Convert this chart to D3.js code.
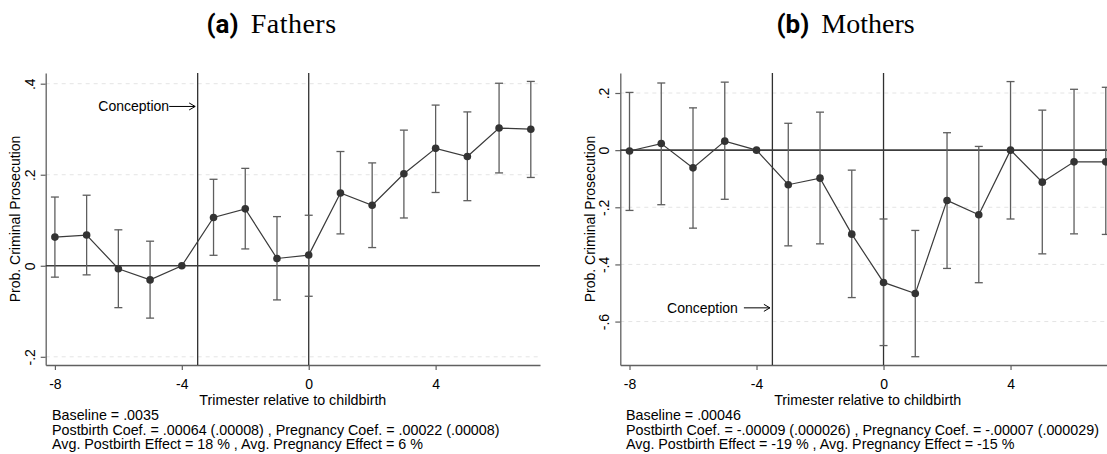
<!DOCTYPE html>
<html>
<head>
<meta charset="utf-8">
<script src="https://cdn.jsdelivr.net/npm/d3@7"></script>
<style>
  html, body { margin: 0; padding: 0; background: #fff; }
  svg { display: block; }
  text { font-family: "Liberation Sans", Arial, sans-serif; fill: #000; }
</style>
</head>
<body>
<svg id="chart" width="1107" height="454"></svg>
<script>
const trimesters = [-8, -7, -6, -5, -4, -3, -2, -1, 0, 1, 2, 3, 4, 5, 6, 7];
const xTicks = [-8, -4, 0, 4];
const conceptionAt = -3.5;
const birthAt = 0;

const fathersCoef = [0.063, 0.0675, -0.0066, -0.031, 0, 0.106, 0.125, 0.016, 0.0235, 0.160, 0.133, 0.202, 0.258, 0.240, 0.3026, 0.300];
const fathersHi   = [0.151, 0.155, 0.079, 0.054, null, 0.190, 0.214, 0.108, 0.111, 0.251, 0.226, 0.298, 0.353, 0.338, 0.401, 0.405];
const fathersLo   = [-0.025, -0.020, -0.092, -0.115, null, 0.023, 0.037, -0.075, -0.067, 0.070, 0.040, 0.105, 0.161, 0.143, 0.204, 0.194];
const fathersYTicks = [-0.2, 0, 0.2, 0.4];
const fathersNotes = [
  "Baseline = .0035",
  "Postbirth Coef. = .00064 (.00008) , Pregnancy Coef. = .00022 (.00008)",
  "Avg. Postbirth Effect = 18 % , Avg. Pregnancy Effect = 6 %"
];

const mothersCoef = [-0.003, 0.023, -0.062, 0.0315, 0, -0.121, -0.098, -0.294, -0.463, -0.502, -0.176, -0.226, 0, -0.112, -0.041, -0.041];
const mothersHi   = [0.202, 0.235, 0.148, 0.238, null, 0.094, 0.133, -0.070, -0.241, -0.281, 0.061, 0.013, 0.240, 0.140, 0.213, 0.220];
const mothersLo   = [-0.211, -0.191, -0.273, -0.172, null, -0.335, -0.328, -0.516, -0.684, -0.723, -0.414, -0.464, -0.241, -0.363, -0.293, -0.295];
const mothersYTicks = [-0.6, -0.4, -0.2, 0, 0.2];
const mothersNotes = [
  "Baseline = .00046",
  "Postbirth Coef. = -.00009 (.000026) , Pregnancy Coef. = -.00007 (.000029)",
  "Avg. Postbirth Effect = -19 % , Avg. Pregnancy Effect = -15 %"
];

let svg = d3.select('#chart');
svg.append('rect').attr('width', 1107).attr('height', 454).attr('fill', '#fff');

// stata style labels: .4, -.2, 0
function fmt(v) {
  return String(+v.toFixed(2)).replace('0.', '.');
}

function drawPanel(p) {
  let x = d3.scaleLinear().domain([-8.29, 7.29]).range([p.left, p.right]);
  let y = d3.scaleLinear().domain(p.yDomain).range([p.bottom, p.top]);
  let g = svg.append('g');

  g.selectAll('line.grid')
    .data(p.yTicks.filter(v => v !== 0))
    .join('line')
    .attr('class', 'grid')
    .attr('x1', p.left).attr('x2', p.right)
    .attr('y1', d => y(d)).attr('y2', d => y(d))
    .attr('stroke', '#e4e4e4')
    .attr('stroke-dasharray', '4,4');

  let yAxis = g.append('g')
    .attr('transform', `translate(${p.left},0)`)
    .call(d3.axisLeft(y).tickValues(p.yTicks).tickSize(5).tickSizeOuter(0).tickFormat(fmt));
  yAxis.selectAll('text')
    .attr('transform', 'rotate(-90)')
    .attr('x', 0).attr('y', -11).attr('dy', null)
    .attr('text-anchor', 'middle')
    .style('font-size', '14px');

  let xAxis = g.append('g')
    .attr('transform', `translate(0,${p.bottom})`)
    .call(d3.axisBottom(x).tickValues(xTicks).tickSize(5).tickSizeOuter(0).tickFormat(d => String(d)));
  xAxis.selectAll('text')
    .attr('y', 24).attr('dy', null)
    .style('font-size', '14px');

  [yAxis, xAxis].forEach(a => {
    a.select('.domain').attr('stroke', '#606060').attr('stroke-width', 1.3);
    a.selectAll('.tick line').attr('stroke', '#606060').attr('stroke-width', 1.2);
    a.attr('font-family', null).attr('font-size', null);
  });

  g.selectAll('line.vref')
    .data([conceptionAt, birthAt])
    .join('line')
    .attr('class', 'vref')
    .attr('x1', d => x(d)).attr('x2', d => x(d))
    .attr('y1', p.top).attr('y2', p.bottom)
    .attr('stroke', '#303030')
    .attr('stroke-width', 1.3);

  g.append('line')
    .attr('x1', p.left).attr('x2', p.right)
    .attr('y1', y(0)).attr('y2', y(0))
    .attr('stroke', '#3c3c3c')
    .attr('stroke-width', 1.6);

  let rows = trimesters.map((t, i) => ({t: t, c: p.coef[i], lo: p.lo[i], hi: p.hi[i]}));
  let bars = rows.filter(d => d.lo !== null);

  g.selectAll('line.ci')
    .data(bars)
    .join('line')
    .attr('class', 'ci')
    .attr('x1', d => x(d.t)).attr('x2', d => x(d.t))
    .attr('y1', d => y(d.lo)).attr('y2', d => y(d.hi))
    .attr('stroke', '#5e5e5e').attr('stroke-width', 1.3);

  g.selectAll('line.cap')
    .data(bars.flatMap(d => [d.lo, d.hi].map(v => ({t: d.t, v: v}))))
    .join('line')
    .attr('class', 'cap')
    .attr('x1', d => x(d.t) - 4).attr('x2', d => x(d.t) + 4)
    .attr('y1', d => y(d.v)).attr('y2', d => y(d.v))
    .attr('stroke', '#5e5e5e').attr('stroke-width', 1.3);

  g.append('path')
    .datum(rows)
    .attr('d', d3.line().x(d => x(d.t)).y(d => y(d.c)))
    .attr('fill', 'none')
    .attr('stroke', '#3a3a3a')
    .attr('stroke-width', 1.2);

  g.selectAll('circle')
    .data(rows)
    .join('circle')
    .attr('cx', d => x(d.t)).attr('cy', d => y(d.c))
    .attr('r', 3.8)
    .attr('fill', '#333');

  // Conception annotation with arrow
  let tip = x(conceptionAt) - 2.5;
  let ay = y(p.labelAt);
  g.append('line')
    .attr('x1', tip - 26).attr('x2', tip)
    .attr('y1', ay).attr('y2', ay)
    .attr('stroke', '#000').attr('stroke-width', 1);
  g.append('path')
    .attr('d', `M${tip - 6},${ay - 3.5}L${tip},${ay}L${tip - 6},${ay + 3.5}`)
    .attr('fill', 'none').attr('stroke', '#000').attr('stroke-width', 1);
  g.append('text')
    .attr('x', tip - 26 - p.labelGap).attr('y', ay)
    .attr('dy', '0.35em')
    .attr('text-anchor', 'end')
    .style('font-size', '14px')
    .text('Conception');

  g.append('text')
    .attr('transform', `translate(${p.yTitleX},${(p.top + p.bottom) / 2}) rotate(-90)`)
    .attr('text-anchor', 'middle')
    .style('font-size', '14px')
    .text('Prob. Criminal Prosecution');

  g.append('text')
    .attr('x', (p.left + p.right) / 2).attr('y', 404.5)
    .attr('text-anchor', 'middle')
    .style('font-size', '14.3px')
    .text('Trimester relative to childbirth');

  g.selectAll('text.note')
    .data(p.notes)
    .join('text')
    .attr('class', 'note')
    .attr('x', p.noteX)
    .attr('y', (d, i) => 420 + i * 14.5)
    .style('font-size', '14.3px')
    .text(d => d);

  let title = g.append('text').attr('x', p.titleX).attr('y', 33.3);
  title.append('tspan')
    .style('font-family', 'Roboto, "DejaVu Sans", sans-serif')
    .style('font-weight', 'bold')
    .style('font-size', '26px')
    .text(p.tag);
  title.append('tspan')
    .attr('dx', 12)
    .style('font-family', '"Liberation Serif", serif')
    .style('font-size', '28px')
    .style('letter-spacing', p.titleSpacing)
    .text(p.name);
}

drawPanel({
  left: 45.7, right: 540, top: 73, bottom: 365,
  yDomain: [-0.218, 0.4235], yTicks: fathersYTicks,
  coef: fathersCoef, lo: fathersLo, hi: fathersHi,
  labelAt: 0.35, labelGap: 0,
  yTitleX: 19.5, noteX: 52, notes: fathersNotes,
  titleX: 206.5, tag: '(a)', name: 'Fathers', titleSpacing: '0.5px'
});

drawPanel({
  left: 620.3, right: 1115, top: 73, bottom: 365,
  yDomain: [-0.752, 0.27], yTicks: mothersYTicks,
  coef: mothersCoef, lo: mothersLo, hi: mothersHi,
  labelAt: -0.552, labelGap: 6,
  yTitleX: 595, noteX: 626, notes: mothersNotes,
  titleX: 776.5, tag: '(b)', name: 'Mothers', titleSpacing: '0px'
});
</script>
</body>
</html>
